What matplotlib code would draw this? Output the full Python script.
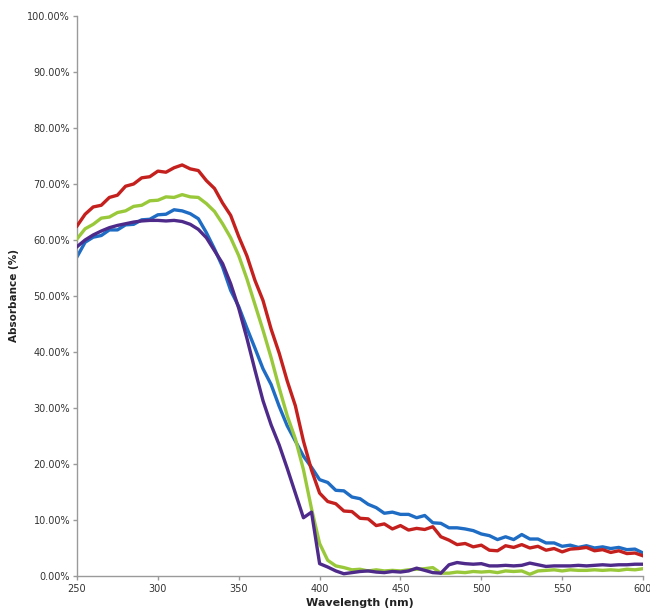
import matplotlib.pyplot as plt
from matplotlib.ticker import PercentFormatter, MultipleLocator

# wavelength grid (nm), 5 nm steps
wavelength = list(range(250, 601, 5))

# absorbance (%) for each sample
red = [62.5, 64.6, 65.9, 66.2, 67.6, 68.0, 69.6, 70.0, 71.1, 71.3,
       72.3, 72.1, 72.9, 73.4, 72.7, 72.4, 70.6, 69.2, 66.6, 64.4,
       60.6, 57.2, 52.8, 49.2, 44.1, 39.8, 34.8, 30.4, 24.1, 18.9,
       14.8, 13.3, 12.9, 11.6, 11.5, 10.3, 10.2, 9.0, 9.3, 8.4,
       9.0, 8.2, 8.5, 8.3, 8.8, 7.0, 6.4, 5.6, 5.8, 5.2,
       5.5, 4.6, 4.5, 5.4, 5.1, 5.6, 5.0, 5.3, 4.6, 4.9,
       4.3, 4.8, 4.9, 5.1, 4.5, 4.7, 4.2, 4.5, 4.0, 4.1, 3.6]

blue = [57.0, 59.6, 60.5, 60.8, 61.8, 61.8, 62.7, 62.8, 63.6, 63.7,
        64.5, 64.6, 65.4, 65.2, 64.7, 63.8, 61.3, 58.4, 55.2, 51.0,
        48.1, 44.3, 40.7, 37.0, 34.2, 30.3, 26.8, 24.1, 21.4, 19.4,
        17.2, 16.7, 15.3, 15.2, 14.1, 13.8, 12.8, 12.2, 11.2, 11.4,
        11.0, 11.0, 10.4, 10.8, 9.5, 9.4, 8.6, 8.6, 8.4, 8.1,
        7.5, 7.2, 6.5, 7.0, 6.5, 7.4, 6.6, 6.6, 5.9, 5.9,
        5.3, 5.5, 5.1, 5.4, 5.0, 5.2, 4.9, 5.1, 4.7, 4.8, 4.1]

green = [60.2, 62.0, 62.8, 63.9, 64.1, 64.9, 65.2, 66.0, 66.2, 67.0,
         67.1, 67.7, 67.6, 68.1, 67.7, 67.6, 66.5, 65.1, 62.9, 60.4,
         57.2, 53.1, 48.5, 43.9, 39.0, 33.6, 28.6, 24.5, 19.0, 12.0,
         5.8, 2.8, 1.8, 1.5, 1.1, 1.2, 0.9, 1.1, 0.9, 1.0,
         0.9, 1.1, 1.2, 1.3, 1.5, 0.5, 0.5, 0.7, 0.6, 0.8,
         0.7, 0.8, 0.6, 0.9, 0.8, 0.9, 0.3, 0.9, 1.0, 1.1,
         0.9, 1.1, 1.0, 1.0, 1.1, 1.0, 1.1, 1.0, 1.2, 1.1, 1.3]

purple = [58.8, 60.0, 60.9, 61.6, 62.2, 62.6, 62.9, 63.2, 63.4, 63.5,
          63.5, 63.4, 63.5, 63.3, 62.8, 61.9, 60.4, 58.1, 55.8, 52.2,
          47.8, 42.5, 36.8, 31.3, 27.0, 23.4, 19.2, 14.8, 10.4, 11.4,
          2.2, 1.6, 0.9, 0.4, 0.6, 0.8, 0.9, 0.7, 0.6, 0.8,
          0.7, 0.9, 1.4, 1.0, 0.6, 0.5, 2.0, 2.4, 2.2, 2.1,
          2.2, 1.8, 1.8, 1.9, 1.8, 1.9, 2.3, 2.0, 1.7, 1.8,
          1.8, 1.8, 1.9, 1.8, 1.9, 2.0, 1.9, 2.0, 2.0, 2.1, 2.1]

series = [
    (blue, '#1F6CC4'),
    (red, '#C4201E'),
    (green, '#99C93A'),
    (purple, '#4E2A8A'),
]

fig = plt.figure(figsize=(6.5, 6.13), dpi=100)
ax = fig.add_axes([0.1185, 0.0604, 0.8708, 0.9135])

for z, (vals, col) in enumerate(series):
    ax.plot(wavelength, vals, color=col, lw=2.4, zorder=2 + z,
            solid_joinstyle='round')

ax.set_xlim(250, 600)
ax.set_ylim(0, 100)
ax.xaxis.set_major_locator(MultipleLocator(50))
ax.yaxis.set_major_locator(MultipleLocator(10))
ax.yaxis.set_major_formatter(PercentFormatter(xmax=100, decimals=2))

for side in ('top', 'right'):
    ax.spines[side].set_visible(False)
for side in ('left', 'bottom'):
    ax.spines[side].set_color('#9a9a9a')
    ax.spines[side].set_linewidth(1.0)

ax.tick_params(axis='both', colors='#9a9a9a', labelcolor='#333333',
               labelsize=7, length=3, width=1.0, direction='out')
ax.tick_params(axis='x', pad=3)
ax.tick_params(axis='y', pad=2)

ax.set_xlabel('Wavelength (nm)', fontsize=8, fontweight='bold',
              color='#222222', labelpad=3)
ax.set_ylabel('Absorbance (%)', fontsize=7.5, fontweight='bold',
              color='#222222', labelpad=6)

fig.savefig('out.png', dpi=100)
